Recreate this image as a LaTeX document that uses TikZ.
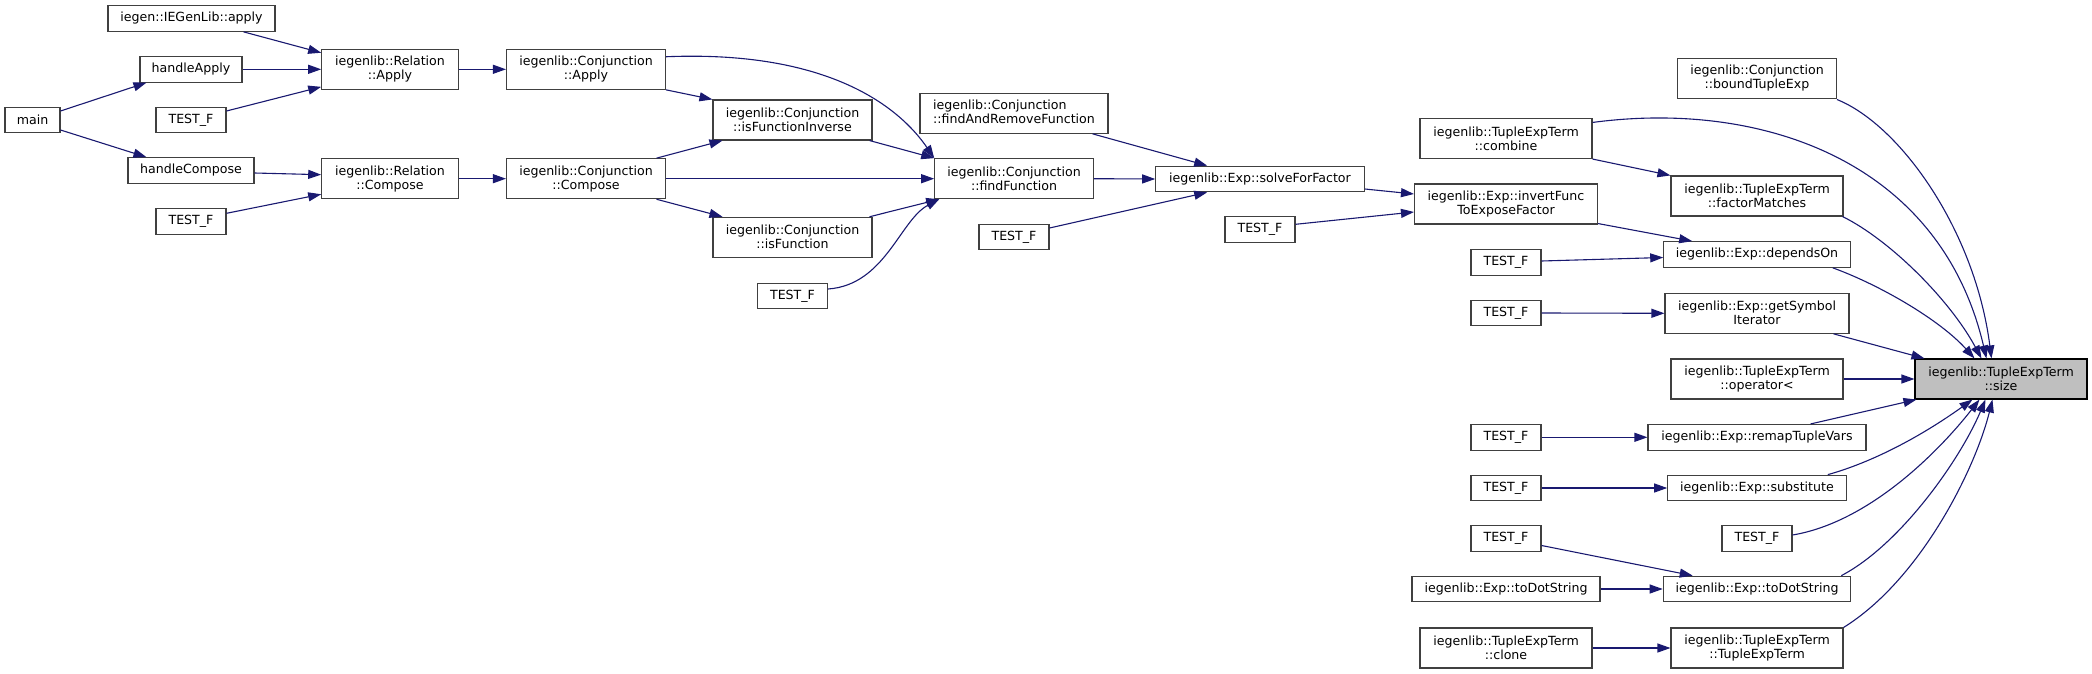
\documentclass[tikz,border=0pt]{standalone}
\usepackage{fontspec}
\setmainfont{DejaVu Sans}
\usetikzlibrary{arrows.meta,calc}
\definecolor{mblue}{HTML}{191970}
\definecolor{bord}{HTML}{404040}
\definecolor{hl}{HTML}{BFBFBF}
\tikzset{
  box/.style={draw=bord, line width=1.1pt, fill=white, inner sep=0pt, minimum height=25.6pt,
    font=\fontsize{12.6}{14}\selectfont, align=center},
  boxtwo/.style={box, minimum height=40pt},
  cedge/.style={draw=mblue, line width=1.1pt, -{Triangle[length=13pt,width=9pt]}}
}
\begin{document}
\begin{tikzpicture}[x=1pt,y=-1pt]
\useasboundingbox (0,0) rectangle (2092,674);
% column 1-4
\node[box, minimum width=167] (iegenapply) at (191.5,18.5) {iegen::IEGenLib::apply};
\node[box, minimum width=102] (handleApply) at (191,69.3) {handleApply};
\node[box, minimum width=70] (testA) at (191,120) {TEST\_F};
\node[box, minimum width=55] (main) at (32.5,120) {main};
\node[box, minimum width=126] (handleCompose) at (191,170.5) {handleCompose};
\node[box, minimum width=70] (testB) at (191,221.3) {TEST\_F};
\node[boxtwo, minimum width=136.5] (relApply) at (390,69.3) {iegenlib::Relation\\::Apply};
\node[boxtwo, minimum width=136.5] (relCompose) at (390,178.7) {iegenlib::Relation\\::Compose};
\node[boxtwo, minimum width=159] (conjApply) at (586,69.3) {iegenlib::Conjunction\\::Apply};
\node[boxtwo, minimum width=159] (conjCompose) at (586,178.7) {iegenlib::Conjunction\\::Compose};
% column 5-7
\node[boxtwo, minimum width=159] (isFuncInv) at (792.5,120) {iegenlib::Conjunction\\::isFunctionInverse};
\node[boxtwo, minimum width=159] (isFunc) at (792.5,237.3) {iegenlib::Conjunction\\::isFunction};
\node[box, minimum width=70] (testC) at (792.5,296) {TEST\_F};
\node[boxtwo, minimum width=158.5] (findFunc) at (1014,178.7) {iegenlib::Conjunction\\::findFunction};
\node[boxtwo, minimum width=188] (findAndRemove) at (1014,113.3) {\begin{tabular}{@{}l@{}}iegenlib::Conjunction\\::findAndRemoveFunction\end{tabular}};
\node[box, minimum width=70] (testD) at (1014,237) {TEST\_F};
\node[box, minimum width=208.5] (solve) at (1260,179) {iegenlib::Exp::solveForFactor};
\node[box, minimum width=70] (testE) at (1260,229.3) {TEST\_F};
% column 8-10
\node[boxtwo, minimum width=159] (bound) at (1757,78.5) {iegenlib::Conjunction\\::boundTupleExp};
\node[boxtwo, minimum width=172] (combine) at (1506,138.5) {iegenlib::TupleExpTerm\\::combine};
\node[boxtwo, minimum width=172] (factorMatches) at (1757,196) {iegenlib::TupleExpTerm\\::factorMatches};
\node[boxtwo, minimum width=183] (invert) at (1506,204) {iegenlib::Exp::invertFunc\\ToExposeFactor};
\node[box, minimum width=186.5] (depends) at (1757,254.5) {iegenlib::Exp::dependsOn};
\node[box, minimum width=70] (testF) at (1506,262.5) {TEST\_F};
\node[boxtwo, minimum width=184] (getSym) at (1757,313.3) {iegenlib::Exp::getSymbol\\Iterator};
\node[box, minimum width=70] (testG) at (1506,313) {TEST\_F};
\node[boxtwo, minimum width=172, fill=hl, draw=black] (size) at (2001,379) {iegenlib::TupleExpTerm\\::size};
\node[boxtwo, minimum width=172] (opLess) at (1757,379) {iegenlib::TupleExpTerm\\::operator<};
\node[box, minimum width=218] (remap) at (1757,437.3) {iegenlib::Exp::remapTupleVars};
\node[box, minimum width=70] (testH) at (1506,437.3) {TEST\_F};
\node[box, minimum width=178.5] (subst) at (1757,488) {iegenlib::Exp::substitute};
\node[box, minimum width=70] (testI) at (1506,488) {TEST\_F};
\node[box, minimum width=70] (testJ) at (1757,538.5) {TEST\_F};
\node[box, minimum width=70] (testK) at (1506,538.5) {TEST\_F};
\node[box, minimum width=187.5] (toDotT) at (1757,589) {iegenlib::Exp::toDotString};
\node[box, minimum width=188] (toDotS) at (1506,589) {iegenlib::Exp::toDotString};
\node[boxtwo, minimum width=172] (tetCtor) at (1757,648) {iegenlib::TupleExpTerm\\::TupleExpTerm};
\node[boxtwo, minimum width=172] (clone) at (1506,648) {iegenlib::TupleExpTerm\\::clone};

% edges left part
\draw[cedge] ($(iegenapply.south)+(52,0)$) -- ($(relApply.north west)+(0,4)$);
\draw[cedge] (handleApply.east) -- (relApply.west);
\draw[cedge] ($(testA.east)+(0,-9)$) -- ($(relApply.south west)+(0,-3)$);
\draw[cedge] ($(main.east)+(0,-9)$) -- ($(handleApply.south west)+(7,0)$);
\draw[cedge] ($(main.east)+(0,10)$) -- ($(handleCompose.north west)+(19,0)$);
\draw[cedge] ($(handleCompose.east)+(0,2.5)$) -- ($(relCompose.west)+(0,-4)$);
\draw[cedge] ($(testB.east)+(0,-8)$) -- ($(relCompose.south west)+(0,-5)$);
\draw[cedge] (relApply.east) -- (conjApply.west);
\draw[cedge] (relCompose.east) -- (conjCompose.west);
\draw[cedge] ($(conjApply.north east)+(0,8)$) .. controls (830,50) and (900,108) .. (findFunc.north west);
\draw[cedge] (conjApply.south east) -- (isFuncInv.north west);
\draw[cedge] ($(conjCompose.north east)+(-9.5,0)$) -- ($(isFuncInv.south west)+(10,0)$);
\draw[cedge] (conjCompose.east) -- (findFunc.west);
\draw[cedge] ($(conjCompose.south east)+(-9.5,0)$) -- ($(isFunc.north west)+(10,0)$);
\draw[cedge] ($(isFuncInv.south east)+(-3,0)$) -- (findFunc.north west);
\draw[cedge] ($(isFunc.north east)+(-3,0)$) -- ($(findFunc.south west)+(5,0)$);
\draw[cedge] ($(testC.east)+(0,-7)$) .. controls (885,285) and (900,220) .. ($(findFunc.south west)+(5,0)$);
\draw[cedge] (findFunc.east) -- (solve.west);
\draw[cedge] ($(findAndRemove.south east)+(-16,0)$) -- ($(solve.north west)+(52,0)$);
\draw[cedge] ($(testD.east)+(0,-9)$) -- ($(solve.south west)+(52,0)$);
\draw[cedge] ($(solve.east)+(0,10)$) -- ($(invert.west)+(0,-10)$);
\draw[cedge] ($(testE.east)+(0,-5)$) -- ($(invert.west)+(0,8)$);
% right part
\draw[cedge] (combine.south east) -- (factorMatches.north west);
\draw[cedge] ($(invert.south east)+(0,-1)$) -- ($(depends.north west)+(29,0)$);
\draw[cedge] ($(testF.east)+(0,-1.5)$) -- ($(depends.west)+(0,3)$);
\draw[cedge] (testG.east) -- (getSym.west);
\draw[cedge] (testH.east) -- (remap.west);
\draw[cedge] (testI.east) -- (subst.west);
\draw[cedge] ($(testK.east)+(0,7)$) -- ($(toDotT.north west)+(30,0)$);
\draw[cedge] (toDotS.east) -- (toDotT.west);
\draw[cedge] (clone.east) -- (tetCtor.west);
% into size
\draw[cedge] ($(combine.north east)+(0,4.5)$) .. controls (1760,100) and (1940,160) .. ($(size.north west)+(72,0)$);
\draw[cedge] ($(bound.south east)+(0,0.5)$) .. controls (1900,125) and (1975,230) .. ($(size.north west)+(77,0)$);
\draw[cedge] ($(factorMatches.south east)+(-1,0)$) .. controls (1890,240) and (1950,300) .. ($(size.north west)+(67,0)$);
\draw[cedge] ($(depends.south east)+(-18,0)$) .. controls (1880,285) and (1940,320) .. ($(size.north west)+(60,0)$);
\draw[cedge] ($(getSym.south east)+(-16,0)$) -- ($(size.north west)+(10,0)$);
\draw[cedge] (opLess.east) -- (size.west);
\draw[cedge] ($(remap.north east)+(-56,0)$) -- ($(size.south west)+(2,0)$);
\draw[cedge] ($(subst.north east)+(-19,0)$) .. controls (1880,460) and (1930,430) .. ($(size.south west)+(58,0)$);
\draw[cedge] ($(testJ.east)+(0,-3.5)$) .. controls (1870,522) and (1940,450) .. ($(size.south west)+(65,0)$);
\draw[cedge] ($(toDotT.north east)+(-10,0)$) .. controls (1900,545) and (1960,460) .. ($(size.south west)+(71,0)$);
\draw[cedge] (tetCtor.north east) .. controls (1920,580) and (1975,470) .. ($(size.south west)+(78,0)$);
\end{tikzpicture}
\end{document}
